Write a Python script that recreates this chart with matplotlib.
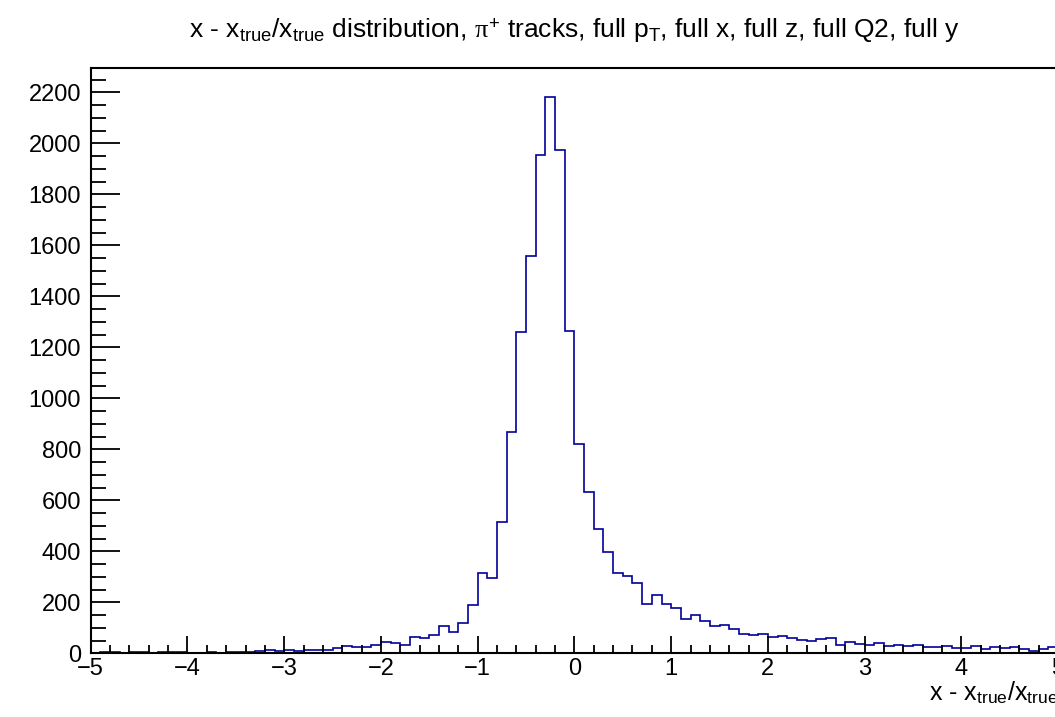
import numpy as np
import matplotlib
matplotlib.use("Agg")
import matplotlib.pyplot as plt
from matplotlib.ticker import MultipleLocator

plt.rcParams['font.family'] = ['Liberation Sans', 'DejaVu Sans']
plt.rcParams['mathtext.fontset'] = 'custom'
plt.rcParams['mathtext.rm'] = 'Liberation Sans'
plt.rcParams['mathtext.it'] = 'Liberation Serif'

# histogram: 100 bins from -5 to 5
x_min, x_max, n_bins = -5.0, 5.0, 100
counts = [
    3, 7, 5, 3, 7, 7, 3, 5, 5, 5,
    3, 3, 7, 3, 7, 7, 5, 10, 15, 11,
    15, 10, 12, 12, 12, 20, 30, 26, 24, 33,
    46, 41, 34, 63, 59, 72, 107, 86, 120, 190,
    317, 297, 517, 870, 1262, 1560, 1955, 2183, 1976, 1265,
    820, 635, 488, 397, 315, 305, 275, 194, 229, 193,
    180, 134, 151, 129, 108, 113, 95, 75, 73, 76,
    63, 67, 61, 54, 50, 58, 62, 33, 45, 37,
    32, 40, 29, 33, 31, 33, 27, 27, 31, 23,
    22, 31, 19, 27, 22, 27, 19, 10, 19, 24,
]
y_max = 2295

title = (r'x - x$_{\mathrm{true}}$/x$_{\mathrm{true}}$ distribution, $\pi^{+}$ tracks, '
         r'full p$_{\mathrm{T}}$, full x, full z, full Q2, full y')
xlabel = r'x - x$_{\mathrm{true}}$/x$_{\mathrm{true}}$'

edges = np.linspace(x_min, x_max, n_bins + 1)

fig = plt.figure(figsize=(10.55, 7.17), dpi=100)
left, width = 0.086, 0.917
ax = fig.add_axes([left, 0.0886, width, 0.8162])

ax.stairs(counts, edges, baseline=0, color='#000099', linewidth=1.2)

ax.set_xlim(x_min, x_max)
ax.set_ylim(0, y_max)

ax.xaxis.set_major_locator(MultipleLocator(1))
ax.xaxis.set_minor_locator(MultipleLocator(0.2))
ax.yaxis.set_major_locator(MultipleLocator(200))
ax.yaxis.set_minor_locator(MultipleLocator(50))

ax.tick_params(axis='both', which='both', direction='in', top=False, right=False,
               labelsize=17, width=1.3, color='black')
ax.tick_params(axis='y', which='major', length=21, pad=7)
ax.tick_params(axis='y', which='minor', length=11)
ax.tick_params(axis='x', which='major', length=12, pad=3)
ax.tick_params(axis='x', which='minor', length=6)

for s in ax.spines.values():
    s.set_linewidth(1.5)

fig.text(left + width / 2, 0.958, title, ha='center', va='center', fontsize=19)
ax.text(1.0, -0.045, xlabel, transform=ax.transAxes, ha='right', va='top', fontsize=18)

fig.savefig('out.png', dpi=100)
